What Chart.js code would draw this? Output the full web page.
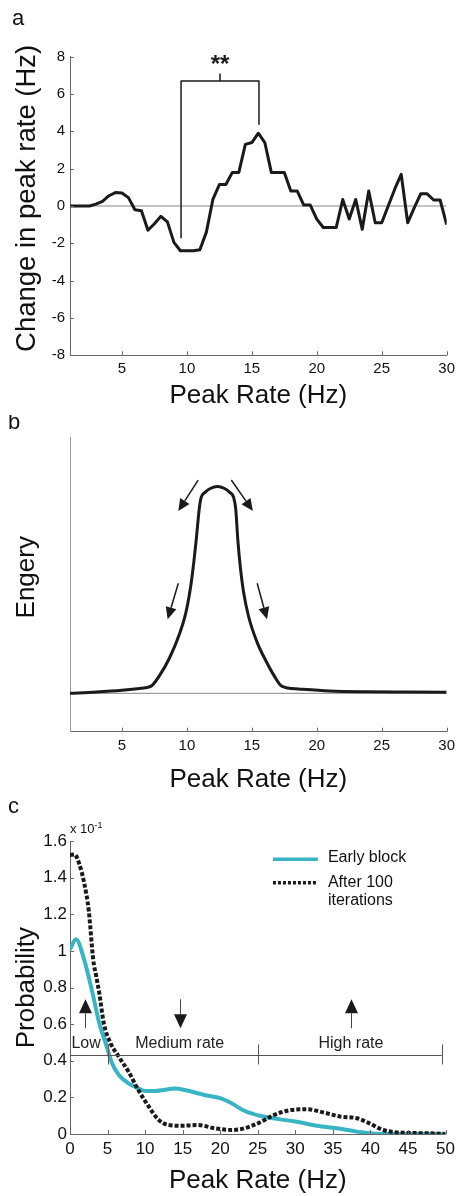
<!DOCTYPE html>
<html>
<head>
<meta charset="utf-8">
<script src="https://cdn.jsdelivr.net/npm/chart.js@4.4.0/dist/chart.umd.min.js"></script>
<style>
  html, body { margin: 0; padding: 0; background: #fff; }
  body { width: 460px; height: 1196px; position: relative; overflow: hidden; }
  canvas { position: absolute; left: 0; }
</style>
</head>
<body>
<canvas id="chartA" width="460" height="415" style="top:0px"></canvas>
<canvas id="chartB" width="460" height="380" style="top:415px"></canvas>
<canvas id="chartC" width="460" height="401" style="top:795px"></canvas>
<script>
// ---- panel a: change in peak rate ----
var rateA = [1, 1.5, 2, 2.5, 3, 3.5, 4, 4.5, 5, 5.5,
             6, 6.5, 7, 7.5, 8, 8.5, 9, 9.5, 10, 10.5,
             11, 11.5, 12, 12.5, 13, 13.5, 14, 14.5, 15, 15.5,
             16, 16.5, 17, 17.5, 18, 18.5, 19, 19.5, 20, 20.5,
             21, 21.5, 22, 22.5, 23, 23.5, 24, 24.5, 25, 25.5,
             26, 26.5, 27, 27.5, 28, 28.5, 29, 29.5, 30];
var changeA = [0, 0, 0, 0, 0.1, 0.25, 0.55, 0.72, 0.7, 0.45,
               -0.2, -0.25, -1.3, -0.95, -0.55, -0.85, -1.95, -2.4, -2.4, -2.4,
               -2.35, -1.4, 0.35, 1.15, 1.15, 1.8, 1.8, 3.3, 3.4, 3.9,
               3.4, 1.8, 1.8, 1.8, 0.8, 0.8, 0.05, 0.05, -0.7, -1.15,
               -1.15, -1.15, 0.35, -0.7, 0.35, -1.25, 0.8, -0.9, -0.9, 0.0,
               0.9, 1.7, -0.9, -0.1, 0.65, 0.65, 0.32, 0.32, -1.0];
var xTicksA = [5, 10, 15, 20, 25, 30];
var yTicksA = [-8, -6, -4, -2, 0, 2, 4, 6, 8];
var bracketX = [9.55, 9.55, 15.55, 15.55];
var bracketY = [-1.73, 6.7, 6.7, 4.38];

// ---- panel b: energy ----
var rateB = [1, 3, 5, 6.5, 7.25, 7.9, 8.65, 9.4, 9.9, 10.3, 10.55, 10.72, 10.95, 11.1, 11.4, 11.8,
             12.35, 12.9, 13.3, 13.6, 13.76, 13.92, 14.1, 14.35, 14.75, 15.4, 16.05, 16.7,
             17.3, 18.6, 21, 24, 27, 30];
var energyB = [0, 0.005, 0.012, 0.02, 0.028, 0.07, 0.137, 0.228, 0.31, 0.42, 0.52, 0.6, 0.72, 0.765, 0.785, 0.8,
               0.808, 0.8, 0.785, 0.765, 0.72, 0.6, 0.5, 0.4, 0.3, 0.2, 0.13, 0.07,
               0.028, 0.017, 0.009, 0.006, 0.005, 0.004];
var arrowFromX = [10.87, 13.42, 9.34, 15.41];
var arrowFromY = [0.833, 0.833, 0.43, 0.43];
var arrowToX = [9.34, 15.08, 8.52, 16.17];
var arrowToY = [0.712, 0.712, 0.289, 0.289];

// ---- panel c: probability (x 10^-1) ----
var earlyX = [0, 0.8, 1.9, 3, 3.9, 4.75, 5.6, 6.5, 7.8, 9.1, 10, 11.3, 14, 15.3, 17.9, 20.1,
              21.5, 23.2, 25.4, 28, 30.2, 32.9, 35.5, 38.2, 41.2, 44, 50];
var earlyY = [1.01, 1.064, 0.95, 0.77, 0.605, 0.496, 0.386, 0.322, 0.277, 0.25, 0.235, 0.235, 0.248, 0.24, 0.213, 0.195,
              0.168, 0.127, 0.098, 0.08, 0.067, 0.045, 0.031, 0.013, 0, 0, 0];
var afterX = [0, 0.6, 1.2, 1.9, 2.5, 3.1, 3.5, 3.9, 4.5, 5.4, 6.5, 7.8, 9.1, 10.5, 11.8, 13.1, 14.9,
              17, 19.3, 21.5, 23.2, 25, 27.2, 29.4, 31.6, 33.8, 36, 38.2, 39.9, 41.7, 44.3, 47.8, 50];
var afterY = [1.525, 1.528, 1.48, 1.37, 1.22, 0.95, 0.86, 0.77, 0.605, 0.496, 0.422, 0.34, 0.24, 0.149, 0.077, 0.049, 0.045,
              0.049, 0.031, 0.022, 0.031, 0.058, 0.104, 0.131, 0.135, 0.117, 0.095, 0.086, 0.058, 0.022, 0.007, 0.004, 0];
var xTicksC = [0, 5, 10, 15, 20, 25, 30, 35, 40, 45, 50];
var yTicksC = [0, 0.2, 0.4, 0.6, 0.8, 1, 1.2, 1.4, 1.6];
var bandEdges = [0, 5, 25, 49.5];
var bandNames = ['Low', 'Medium rate', 'High rate'];
var bandLabelX = [2.15, 14.6, 37.4];
var bandArrowX = [2.0, 14.6, 37.4];
var bandArrowUp = [true, false, true];

Chart.defaults.font.family = '"Liberation Sans", Arial, Helvetica, sans-serif';
Chart.defaults.color = '#111';
var INK = '#1a1a1a';
var AXIS = '#666';
var CYAN = '#38b4c4';

function pts(xs, ys) {
  return xs.map(function (x, i) { return { x: x, y: ys[i] }; });
}

function xAxis(min, max, ticks, size, height, titlePad) {
  return {
    type: 'linear', min: min, max: max,
    afterBuildTicks: function (s) { s.ticks = ticks.map(function (v) { return { value: v }; }); },
    afterFit: function (s) { s.height = height; },
    grid: { display: false, drawTicks: false },
    border: { color: AXIS },
    ticks: { font: { size: size }, padding: 5, maxRotation: 0, autoSkip: false,
             callback: function (v) { return String(v); } },
    title: { display: true, text: 'Peak Rate (Hz)', font: { size: 26 }, padding: { top: 0, bottom: titlePad } }
  };
}

function yAxis(min, max, ticks, size, pad, label, titleSize, borderColor) {
  return {
    type: 'linear', min: min, max: max,
    afterBuildTicks: function (s) { s.ticks = ticks.map(function (v) { return { value: v }; }); },
    afterFit: function (s) { s.width = 70; },
    grid: { display: false, drawTicks: false },
    border: { color: borderColor || AXIS },
    ticks: { display: ticks.length > 0, font: { size: size }, padding: pad, autoSkip: false,
             callback: function (v) { return String(v); } },
    title: { display: true, text: label, font: { size: titleSize }, padding: { top: 11, bottom: 0 } }
  };
}

// little ticks pointing into the plot, like the original figure
var inwardTicks = {
  id: 'inwardTicks',
  afterDatasetsDraw: function (chart, args, opts) {
    var ctx = chart.ctx, a = chart.chartArea;
    ctx.save();
    ctx.strokeStyle = AXIS;
    ctx.lineWidth = 1;
    ctx.beginPath();
    if (opts.x) {
      chart.scales.x.ticks.forEach(function (t) {
        var p = Math.round(chart.scales.x.getPixelForValue(t.value)) + 0.5;
        ctx.moveTo(p, a.bottom); ctx.lineTo(p, a.bottom - 4);
      });
    }
    if (opts.y) {
      chart.scales.y.ticks.forEach(function (t) {
        var p = Math.round(chart.scales.y.getPixelForValue(t.value)) + 0.5;
        ctx.moveTo(a.left, p); ctx.lineTo(a.left + 4, p);
      });
    }
    ctx.stroke();
    ctx.restore();
  }
};

function letter(ctx, txt, x, y) {
  ctx.save();
  ctx.fillStyle = '#111';
  ctx.font = '22px "Liberation Sans", Arial, sans-serif';
  ctx.textBaseline = 'alphabetic';
  ctx.fillText(txt, x, y);
  ctx.restore();
}

function arrow(ctx, x1, y1, x2, y2, len, half, lw) {
  var ang = Math.atan2(y2 - y1, x2 - x1);
  var bx = x2 - len * Math.cos(ang), by = y2 - len * Math.sin(ang);
  ctx.lineWidth = lw;
  ctx.beginPath(); ctx.moveTo(x1, y1); ctx.lineTo(bx, by); ctx.stroke();
  ctx.beginPath();
  ctx.moveTo(x2, y2);
  ctx.lineTo(bx + half * Math.sin(ang), by - half * Math.cos(ang));
  ctx.lineTo(bx - half * Math.sin(ang), by + half * Math.cos(ang));
  ctx.closePath();
  ctx.fill();
}

function baseOptions(pad) {
  return {
    responsive: false,
    animation: false,
    events: [],
    layout: { padding: pad },
    elements: { point: { radius: 0 }, line: { borderJoinStyle: 'round' } },
    plugins: { legend: { display: false }, tooltip: { enabled: false }, inwardTicks: { x: true, y: true } }
  };
}

// ---- chart a ----
var optA = baseOptions({ left: 0, right: 10.7, top: 56.7, bottom: 0 });
optA.scales = {
  x: xAxis(1, 30, xTicksA, 15, 59.7, 4),
  y: yAxis(-8, 8, yTicksA, 15, 5, '  Change in peak rate (Hz)', 27.5)
};
new Chart(document.getElementById('chartA'), {
  type: 'line',
  data: {
    datasets: [
      { data: pts(rateA, changeA), borderColor: INK, borderWidth: 3, tension: 0, order: 0 },
      { data: pts(bracketX, bracketY), borderColor: INK, borderWidth: 1.5, order: 1 },
      { data: pts([12.55, 12.55], [6.7, 7.1]), borderColor: INK, borderWidth: 1.5, order: 1 },
      { data: pts([1, 30], [0, 0]), borderColor: '#888', borderWidth: 1, order: 2 }
    ]
  },
  options: optA,
  plugins: [inwardTicks, {
    id: 'notesA',
    afterDraw: function (chart) {
      var ctx = chart.ctx, xs = chart.scales.x, ys = chart.scales.y;
      ctx.save();
      ctx.fillStyle = INK;
      ctx.font = 'bold 24px "Liberation Sans", Arial, sans-serif';
      ctx.textAlign = 'center';
      ctx.textBaseline = 'alphabetic';
      ctx.fillText('**', xs.getPixelForValue(12.55), ys.getPixelForValue(7.1) - 1);
      ctx.restore();
      letter(ctx, 'a', 12, 25);
    }
  }]
});

// ---- chart b ----
var optB = baseOptions({ left: 0, right: 10.7, top: 22.3, bottom: 0 });
optB.scales = {
  x: xAxis(1, 30, xTicksA, 15, 63.3, 0),
  y: yAxis(-0.15, 1, [], 15, 5, '  Engery', 26, '#999')
};
optB.plugins.inwardTicks = { x: true, y: false };
new Chart(document.getElementById('chartB'), {
  type: 'line',
  data: {
    datasets: [
      { data: pts(rateB, energyB), borderColor: INK, borderWidth: 3, cubicInterpolationMode: 'monotone', order: 0 },
      { data: pts([1, 30], [0, 0]), borderColor: '#888', borderWidth: 1, order: 2 }
    ]
  },
  options: optB,
  plugins: [inwardTicks, {
    id: 'notesB',
    afterDraw: function (chart) {
      var ctx = chart.ctx, xs = chart.scales.x, ys = chart.scales.y;
      ctx.save();
      ctx.strokeStyle = INK;
      ctx.fillStyle = INK;
      for (var i = 0; i < arrowFromX.length; i++) {
        arrow(ctx, xs.getPixelForValue(arrowFromX[i]), ys.getPixelForValue(arrowFromY[i]),
              xs.getPixelForValue(arrowToX[i]), ys.getPixelForValue(arrowToY[i]), 12, 5.5, 1.5);
      }
      ctx.restore();
      letter(ctx, 'b', 8, 14);
    }
  }]
});

// ---- chart c ----
var optC = baseOptions({ left: 0, right: 10.7, top: 46.2, bottom: 0 });
optC.scales = {
  x: xAxis(0, 50, xTicksC, 17, 62, 0),
  y: yAxis(0, 1.6, yTicksC, 17, 3, 'Probability', 26)
};
new Chart(document.getElementById('chartC'), {
  type: 'line',
  data: {
    datasets: [
      { data: pts(afterX, afterY), borderColor: INK, borderWidth: 4, borderDash: [4, 2],
        borderCapStyle: 'butt', cubicInterpolationMode: 'monotone', order: 0 },
      { data: pts(earlyX, earlyY), borderColor: CYAN, borderWidth: 4, cubicInterpolationMode: 'monotone', order: 1 }
    ]
  },
  options: optC,
  plugins: [inwardTicks, {
    id: 'notesC',
    afterDraw: function (chart) {
      var ctx = chart.ctx, xs = chart.scales.x, ys = chart.scales.y, a = chart.chartArea;
      var yb = Math.round(ys.getPixelForValue(0.43)) + 0.5;
      ctx.save();
      // rate bands
      ctx.strokeStyle = '#555';
      ctx.lineWidth = 1;
      ctx.beginPath();
      ctx.moveTo(xs.getPixelForValue(bandEdges[0]), yb);
      ctx.lineTo(xs.getPixelForValue(bandEdges[bandEdges.length - 1]), yb);
      for (var i = 1; i < bandEdges.length; i++) {
        var bx = Math.round(xs.getPixelForValue(bandEdges[i])) + 0.5;
        ctx.moveTo(bx, ys.getPixelForValue(0.49));
        ctx.lineTo(bx, ys.getPixelForValue(0.38));
      }
      ctx.stroke();
      ctx.fillStyle = '#222';
      ctx.font = '16px "Liberation Sans", Arial, sans-serif';
      ctx.textAlign = 'center';
      ctx.textBaseline = 'middle';
      for (i = 0; i < bandNames.length; i++) {
        ctx.fillText(bandNames[i], xs.getPixelForValue(bandLabelX[i]), ys.getPixelForValue(0.496));
      }
      // up / down arrows
      ctx.fillStyle = INK;
      ctx.strokeStyle = '#444';
      for (i = 0; i < bandArrowX.length; i++) {
        var ax = Math.round(xs.getPixelForValue(bandArrowX[i])) + 0.5;
        var lo = ys.getPixelForValue(0.578), hi = ys.getPixelForValue(0.736);
        if (bandArrowUp[i]) arrow(ctx, ax, lo, ax, hi, 14, 6.5, 1);
        else arrow(ctx, ax, hi, ax, lo, 14, 6.5, 1);
      }
      // legend
      var lx = a.right - 172.6, tx = a.right - 117.6;
      ctx.lineWidth = 3.5;
      ctx.strokeStyle = CYAN;
      ctx.beginPath(); ctx.moveTo(lx, a.top + 18); ctx.lineTo(lx + 45, a.top + 18); ctx.stroke();
      ctx.strokeStyle = INK;
      ctx.setLineDash([3, 2]);
      ctx.beginPath(); ctx.moveTo(lx, a.top + 41.5); ctx.lineTo(lx + 45, a.top + 41.5); ctx.stroke();
      ctx.setLineDash([]);
      ctx.fillStyle = '#111';
      ctx.textAlign = 'left';
      ctx.fillText('Early block', tx, a.top + 16);
      ctx.fillText('After 100', tx, a.top + 41);
      ctx.fillText('iterations', tx, a.top + 59);
      // axis multiplier
      ctx.font = '13px "Liberation Sans", Arial, sans-serif';
      ctx.fillText('x 10', a.left, a.top - 12);
      ctx.font = '9px "Liberation Sans", Arial, sans-serif';
      ctx.fillText('-1', a.left + ctx.measureText('x').width + 20, a.top - 16);
      ctx.restore();
      letter(ctx, 'c', 8, 18);
    }
  }]
});
</script>
</body>
</html>
